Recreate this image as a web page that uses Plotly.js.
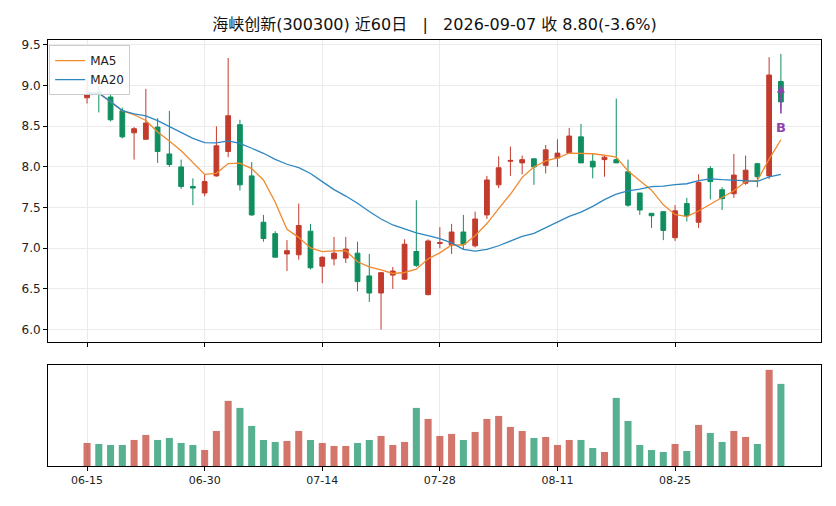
<!DOCTYPE html>
<html>
<head>
<meta charset="utf-8">
<script src="https://cdn.plot.ly/plotly-3.0.1.min.js"></script>
<style>html,body{margin:0;padding:0;background:#fff;}#chart{width:836px;height:506px;}</style>
</head>
<body>
<div id="chart"></div>
<script>
const dates = ["06-15","06-16","06-17","06-18","06-22","06-23","06-24","06-25","06-26","06-29",
"06-30","07-01","07-02","07-03","07-06","07-07","07-08","07-09","07-10","07-13",
"07-14","07-15","07-16","07-17","07-20","07-21","07-22","07-23","07-24","07-27",
"07-28","07-29","07-30","07-31","08-03","08-04","08-05","08-06","08-07","08-10",
"08-11","08-12","08-13","08-14","08-17","08-18","08-19","08-20","08-21","08-24",
"08-25","08-26","08-27","08-28","08-31","09-01","09-02","09-03","09-04","09-07"];
const openP = [8.85,8.92,8.86,8.69,8.42,8.34,8.49,8.16,8.00,7.76,
7.68,7.89,8.19,8.52,7.89,7.32,7.18,6.93,6.92,7.21,
6.78,6.87,6.88,6.94,6.66,6.45,6.67,6.62,6.96,6.43,
7.06,7.04,7.20,7.03,7.41,7.78,8.07,8.05,8.10,8.02,
8.11,8.17,8.37,8.07,8.09,8.09,7.94,7.68,7.43,7.45,
7.13,7.55,7.32,7.98,7.72,7.67,7.80,8.04,7.89,9.05];
const highP = [9.07,8.99,8.89,8.73,8.49,8.96,8.60,8.69,8.09,7.86,
7.90,8.50,9.34,8.58,8.06,7.41,7.21,7.10,7.55,7.30,
6.90,7.14,7.14,7.08,6.93,6.70,6.77,7.11,7.59,7.11,
7.26,7.30,7.41,7.45,7.89,8.13,8.25,8.14,8.10,8.27,
8.34,8.48,8.53,8.16,8.14,8.84,8.09,7.68,7.43,7.45,
7.53,7.62,7.91,8.01,7.75,8.16,8.14,8.05,9.35,9.39];
const lowP = [8.78,8.67,8.56,8.35,8.09,8.34,8.05,8.00,7.73,7.53,
7.64,7.88,8.12,7.71,7.40,7.08,6.89,6.72,6.86,6.74,
6.57,6.79,6.82,6.47,6.34,6.00,6.50,6.61,6.77,6.42,
7.00,6.93,6.98,7.01,7.36,7.74,7.89,7.91,7.78,7.92,
8.00,8.16,8.05,7.86,7.88,8.05,7.51,7.41,7.25,7.10,
7.09,7.33,7.25,7.60,7.47,7.62,7.78,7.75,7.85,8.72];
const closeP = [8.89,8.90,8.58,8.37,8.47,8.54,8.19,8.03,7.76,7.74,
7.82,8.26,8.63,7.78,7.41,7.12,6.89,6.97,7.28,6.76,
6.89,6.94,6.99,6.59,6.45,6.70,6.72,7.05,6.79,7.09,
7.07,7.20,7.05,7.36,7.84,7.99,8.08,8.09,8.00,8.21,
8.17,8.38,8.05,8.00,8.12,8.05,7.53,7.47,7.40,7.22,
7.46,7.40,7.81,7.82,7.61,7.90,7.96,7.88,9.13,8.80];
const volume = [69,66,63,63,78,93,78,84,69,63,
48,105,195,174,120,78,72,75,105,78,
69,60,60,69,78,90,63,72,174,141,
90,96,78,102,141,150,117,105,84,87,
63,78,78,54,42,204,135,63,48,42,
66,45,123,99,72,105,87,66,288,246];
// MA values before enough history is visible
const ma5Head = [8.906,8.906,8.803,8.689];
const ma20Head = [8.906,8.906,8.803,8.693,8.652,8.627,8.570,8.496,8.422,8.352,
8.299,8.295,8.320,8.291,8.230,8.168,8.094,8.033,7.992];
const tickDates = ["06-15","06-30","07-14","07-28","08-11","08-25"];
const signalLabel = "B";

function movingAvg(n, head) {
  return closeP.map((c, i) => {
    if (i < head.length) return head[i];
    let s = 0;
    for (let k = i - n + 1; k <= i; k++) s += closeP[k];
    return s / n;
  });
}
const ma5 = movingAvg(5, ma5Head);
const ma20 = movingAvg(20, ma20Head);

const RED = '#c23b2c', GREEN = '#0f8f5f';
const RED_V = 'rgba(194,59,44,0.7)', GREEN_V = 'rgba(15,143,95,0.7)';
const volColors = closeP.map((c, i) => c >= openP[i] ? RED_V : GREEN_V);

const font = "DejaVu Sans, Noto Sans CJK SC, sans-serif";
const n = dates.length;
const lastIdx = n - 1;

const traces = [
  {type:'candlestick', x:dates, open:openP, high:highP, low:lowP, close:closeP,
   increasing:{line:{color:RED, width:1}, fillcolor:RED},
   decreasing:{line:{color:GREEN, width:1}, fillcolor:GREEN},
   whiskerwidth:0, showlegend:false, hoverinfo:'skip', xaxis:'x', yaxis:'y'},
  {type:'scatter', mode:'lines', x:dates, y:ma5, name:'MA5',
   line:{color:'#ef8a2e', width:1.3}, xaxis:'x', yaxis:'y', hoverinfo:'skip'},
  {type:'scatter', mode:'lines', x:dates, y:ma20, name:'MA20',
   line:{color:'#2e86c1', width:1.3}, xaxis:'x', yaxis:'y', hoverinfo:'skip'},
  {type:'bar', x:dates, y:volume, marker:{color:volColors, line:{width:0}},
   width:0.6, showlegend:false, xaxis:'x2', yaxis:'y2', hoverinfo:'skip'}
];

const xr = [-3.32, 62.41];
const layout = {
  width:836, height:506,
  margin:{l:48, r:15, t:40, b:40},
  paper_bgcolor:'#fff', plot_bgcolor:'#fff',
  font:{family:font, color:'#222', size:12},
  title:{text:'海峡创新(300300) 近60日 \u00a0\u00a0|\u00a0\u00a0 2026-09-07 收 8.80(-3.6%)',
         x:0.5, xref:'paper', y:0.962, yref:'container', font:{size:16, family:font, color:'#111'}},
  boxgap:0.42,
  showlegend:true,
  legend:{x:0.0015, y:0.988, xanchor:'left', yanchor:'top', bgcolor:'rgba(255,255,255,0.85)',
          bordercolor:'#cccccc', borderwidth:1, font:{size:12, family:font},
          tracegroupgap:0, itemwidth:30},
  xaxis:{domain:[0,1], anchor:'y', type:'category', range:xr, rangeslider:{visible:false},
         tickmode:'array', tickvals:tickDates, ticktext:tickDates, showticklabels:false,
         ticks:'outside', ticklen:4, tickcolor:'#000', showgrid:true, gridcolor:'#ebebeb',
         showline:true, linecolor:'#000', linewidth:1, mirror:true, zeroline:false, fixedrange:true},
  yaxis:{domain:[0.291,1], anchor:'x', range:[5.847,9.561], tickmode:'array',
         tickvals:[6.0,6.5,7.0,7.5,8.0,8.5,9.0,9.5], ticktext:['6.0','6.5','7.0','7.5','8.0','8.5','9.0','9.5'],
         ticks:'outside', ticklen:4, tickcolor:'#000', showgrid:true, gridcolor:'#ebebeb',
         showline:true, linecolor:'#000', linewidth:1, mirror:true, zeroline:false,
         tickfont:{size:12, family:font}},
  xaxis2:{domain:[0,1], anchor:'y2', type:'category', matches:'x', range:xr,
         tickmode:'array', tickvals:tickDates, ticktext:tickDates,
         ticks:'outside', ticklen:4, tickcolor:'#000', showgrid:true, gridcolor:'#ebebeb',
         showline:true, linecolor:'#000', linewidth:1, mirror:true, zeroline:false,
         tickfont:{size:11, family:font}},
  yaxis2:{domain:[0,0.237], anchor:'x2', range:[0, Math.max(...volume)*1.05],
         showticklabels:false, ticks:'', showgrid:false, showline:true, linecolor:'#000',
         linewidth:1, mirror:true, zeroline:false},
  annotations:[
    {x:lastIdx, y:highP[lastIdx] - 0.38, xref:'x', yref:'y', ax:lastIdx, ay:lowP[lastIdx] - 0.08,
     axref:'x', ayref:'y', text:'', showarrow:true, arrowhead:2, arrowsize:1, arrowwidth:1.6,
     arrowcolor:'#8e44ad'},
    {x:lastIdx, y:lowP[lastIdx] - 0.24, xref:'x', yref:'y', text:'<b>'+signalLabel+'</b>',
     showarrow:false, font:{size:13, color:'#8e44ad', family:font}}
  ]
};

Plotly.newPlot('chart', traces, layout, {staticPlot:true, displayModeBar:false});
</script>
</body>
</html>
